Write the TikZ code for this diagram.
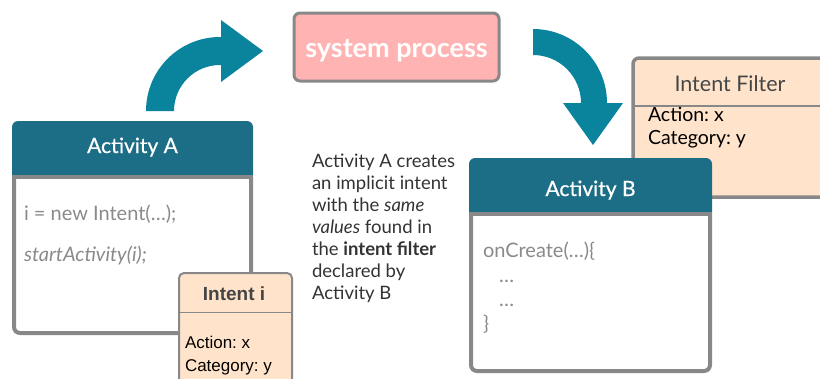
\documentclass[tikz,border=0pt]{standalone}
\usepackage{fontspec}
\setmainfont{Lato}
\newfontfamily\arialf{Liberation Sans}
\newfontfamily\latomed{Lato}[FakeBold=0.6]
\frenchspacing
\definecolor{hdrc}{HTML}{1C6E87}
\definecolor{arrc}{HTML}{0A839D}
\definecolor{bordc}{HTML}{888888}
\definecolor{sysc}{HTML}{FFB3B3}
\definecolor{filtc}{HTML}{FFE4CB}
\definecolor{codec}{HTML}{8A8A8A}
\definecolor{txtc}{HTML}{333333}
\definecolor{darkc}{HTML}{454545}
\tikzset{
  txt/.style={inner sep=0pt, outer sep=0pt},
  hdrtxt/.style={txt, text=white, anchor=base, font=\latomed\fontsize{21}{25}\selectfont},
  codetxt/.style={txt, text=codec, anchor=base west, font=\fontsize{20}{24}\selectfont},
  paratxt/.style={txt, text=txtc, anchor=base west, font=\fontsize{18.5}{22}\selectfont},
  ftxt/.style={txt, text=black, anchor=base west, font=\fontsize{19.5}{23}\selectfont},
  atxt/.style={txt, text=black, anchor=base west, font=\arialf\fontsize{17}{20}\selectfont},
  bigarrow/.style={fill=arrc},
  boxline/.style={bordc, line width=4},
}
\begin{document}
\begin{tikzpicture}[x=1pt,y=-1pt]
\useasboundingbox (0,0) rectangle (820,378);

% curved arrow up-right
\fill[bigarrow] (146,111) arc[start angle=180,end angle=270,radius=74]
  -- (221,37) -- (221,20) -- (263,51) -- (221,82) -- (221,65) -- (220,65)
  arc[start angle=270,end angle=180,radius=46] -- cycle;

% curved arrow down
\fill[bigarrow] (533,29) arc[start angle=270,end angle=360,radius=74]
  -- (623,103) -- (593,145) -- (563,103) -- (581,103)
  arc[start angle=360,end angle=270,radius=48] -- cycle;

% system process
\draw[bordc, line width=3, fill=sysc, rounded corners=6] (294,13) rectangle (499,81);
\node[txt, text=white, anchor=base, font=\fontsize{27}{30}\selectfont\bfseries] (sys) at (396.5,57) {system process};

% Activity A
\fill[hdrc, rounded corners=6] (12,121) rectangle (253,182);
\fill[white] (14,177) rectangle (251,333);
\draw[boxline, rounded corners=6] (14,177) -- (14,333) -- (251,333) -- (251,177);
\draw[boxline] (12,177) -- (253,177);
\node[hdrtxt] (actA) at (132.5,153) {Activity A};
\node[codetxt] (codeA1) at (24,220) {i = new Intent(…);};
\node[codetxt, font=\fontsize{20}{24}\selectfont\itshape] (codeA2) at (24,261) {startActivity(i);};

% Intent i
\draw[bordc, line width=2, fill=filtc, rounded corners=5] (179,273) rectangle (292,395);
\draw[bordc, line width=1] (179,312) -- (292,312);
\node[txt, text=darkc, anchor=base, font=\arialf\fontsize{19}{22}\selectfont\bfseries] (intI) at (234,300) {Intent i};
\node[atxt] (intIa) at (185,348) {Action: x};
\node[atxt] (intIc) at (185,371) {Category: y};

% paragraph
\node[paratxt] (p1) at (312,167) {Activity A creates};
\node[paratxt] (p2) at (312,189) {an implicit intent};
\node[paratxt] (p3) at (312,211) {with the \textit{same}};
\node[paratxt] (p4) at (312,233) {\textit{values} found in};
\node[paratxt] (p5) at (312,255) {the \textbf{intent filter}};
\node[paratxt] (p6) at (312,277) {declared by};
\node[paratxt] (p7) at (312,299) {Activity B};

% Intent Filter
\draw[bordc, line width=3.5, fill=filtc, rounded corners=6] (633,58) rectangle (850,197);
\draw[bordc, line width=2] (633,106) -- (850,106);
\node[txt, text=darkc, anchor=base, font=\fontsize{21.5}{25}\selectfont] (iftitle) at (730,91) {Intent Filter};
\node[ftxt] (ifa) at (648,121) {Action: x};
\node[ftxt] (ifc) at (648,144) {Category: y};

% Activity B
\fill[hdrc, rounded corners=6] (469,158) rectangle (712,219);
\fill[white] (471,214) rectangle (710,371);
\draw[boxline, rounded corners=6] (471,214) -- (471,371) -- (710,371) -- (710,214);
\draw[boxline] (469,214) -- (712,214);
\node[hdrtxt] (actB) at (590.5,196) {Activity B};
\node[codetxt] (codeB1) at (483,257) {onCreate(…)\{};
\node[codetxt] (codeB2) at (499,282) {…};
\node[codetxt] (codeB3) at (499,306) {…};
\node[codetxt] (codeB4) at (483,330) {\}};
\end{tikzpicture}
\end{document}
